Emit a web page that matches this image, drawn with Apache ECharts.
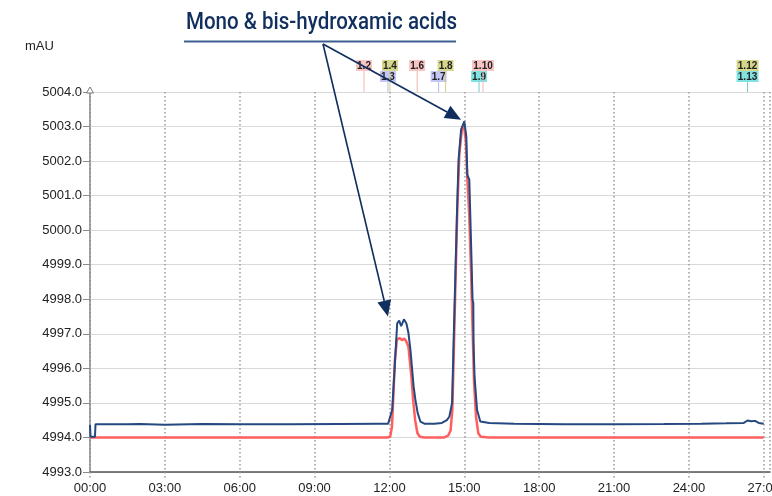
<!DOCTYPE html>
<html>
<head>
<meta charset="utf-8">
<script src="https://cdn.jsdelivr.net/npm/echarts@6/dist/echarts.min.js"></script>
<style>
  html, body { margin: 0; padding: 0; background: #fff; }
  #chart { width: 772px; height: 496px; }
</style>
</head>
<body>
<div id="chart"></div>
<script>
// time in minutes, signal in mAU
const blueTrace = [
  [0.0, 4994.36], [0.02, 4994.02], [0.2, 4994.02], [0.22, 4994.38], [1.5, 4994.38],
  [2.0, 4994.39], [3.0, 4994.37], [4.5, 4994.39], [6.0, 4994.38], [8.0, 4994.38],
  [10.0, 4994.39], [11.5, 4994.40], [11.95, 4994.40], [12.03, 4994.42], [12.11, 4994.8],
  [12.19, 4995.8], [12.27, 4996.8], [12.31, 4997.3], [12.39, 4997.38], [12.47, 4997.22],
  [12.52, 4997.2], [12.58, 4997.42], [12.63, 4997.46], [12.68, 4997.3], [12.76, 4997.03],
  [12.84, 4996.54], [12.9, 4996.05], [12.97, 4995.47], [13.04, 4995.09], [13.13, 4994.71],
  [13.24, 4994.46], [13.4, 4994.40], [13.8, 4994.40], [14.1, 4994.42], [14.3, 4994.5],
  [14.4, 4994.6], [14.51, 4995.0], [14.57, 4996.74], [14.64, 4998.66], [14.71, 5000.6],
  [14.77, 5002.04], [14.87, 5002.91], [15.0, 5003.15], [15.08, 5002.72], [15.12, 5001.6],
  [15.2, 5001.46], [15.27, 4999.64], [15.33, 4997.99], [15.36, 4997.9], [15.37, 4996.74],
  [15.41, 4995.76], [15.51, 4994.8], [15.64, 4994.46], [16.0, 4994.42], [17.0, 4994.40],
  [19.0, 4994.38], [21.0, 4994.38], [23.0, 4994.39], [24.5, 4994.40], [25.5, 4994.41],
  [26.2, 4994.42], [26.35, 4994.49], [26.5, 4994.47], [26.65, 4994.48], [26.8, 4994.42],
  [27.0, 4994.40]
];

const redTrace = [
  [0, 4994.0], [11.9, 4994.0], [12.03, 4994.02], [12.1, 4994.3], [12.15, 4995.09],
  [12.22, 4996.25], [12.3, 4996.83], [12.4, 4996.88], [12.5, 4996.82], [12.6, 4996.86],
  [12.66, 4996.8], [12.76, 4996.63], [12.88, 4995.76], [12.95, 4995.09], [13.03, 4994.5],
  [13.12, 4994.13], [13.22, 4994.02], [13.4, 4994.0], [14.2, 4994.0], [14.35, 4994.05],
  [14.45, 4994.2], [14.52, 4994.8], [14.58, 4996.5], [14.65, 4998.6], [14.72, 5000.6],
  [14.8, 5002.2], [14.9, 5002.9], [14.98, 5003.05], [15.06, 5002.6], [15.12, 5001.5],
  [15.2, 5000.4], [15.27, 4998.8], [15.33, 4997.2], [15.39, 4995.6], [15.47, 4994.6],
  [15.56, 4994.12], [15.66, 4994.02], [16.0, 4994.0], [27.0, 4994.0]
];

// peak markers: time, row, label, kind
const markerTimes = [10.98, 11.94, 12.02, 13.11, 13.97, 14.25, 15.59, 15.75, 26.35, 26.35];
const markerRows = [0, 1, 0, 0, 1, 0, 1, 0, 0, 1];
const markerLabels = ['1.2', '1.3', '1.4', '1.6', '1.7', '1.8', '1.9', '1.10', '1.12', '1.13'];
const markerKinds = ['pink', 'lilac', 'olive', 'pink', 'lilac', 'olive', 'teal', 'pink', 'olive', 'teal'];

const annotationText = 'Mono & bis-hydroxamic acids';
const arrowTargets = [[11.94, 4997.5], [14.87, 5003.2]];

const X_MIN = 0, X_MAX = 27.25, X_STEP = 3;
const Y_MIN = 4993, Y_MAX = 5004, Y_STEP = 1;

const markerColors = {
  pink:  { fill: '#f9c4c4', line: '#f4b4b4' },
  lilac: { fill: '#c6c6f6', line: '#b8b8f0' },
  olive: { fill: '#d7d78c', line: '#d0d080' },
  teal:  { fill: '#80e2e2', line: '#70cccc' }
};

const markerData = markerTimes.map((t, i) => [t, markerRows[i], markerLabels[i], markerKinds[i]]);

const chart = echarts.init(document.getElementById('chart'), null, { renderer: 'canvas' });

function pad2(n) { return (n < 10 ? '0' : '') + n; }

const option = {
  animation: false,
  backgroundColor: '#ffffff',
  textStyle: { fontFamily: 'Liberation Sans, Arial, sans-serif' },
  grid: [
    { left: 90, top: 92, width: 680, bottom: 24, outerBoundsMode: 'none', containLabel: false },
    { left: 90, top: 50, width: 680, height: 42, outerBoundsMode: 'none', containLabel: false }
  ],
  xAxis: [
    {
      type: 'value', gridIndex: 0, min: X_MIN, max: X_MAX, interval: X_STEP,
      axisLine: { onZero: false, lineStyle: { color: '#555', width: 1.5 } },
      axisTick: { length: 6, lineStyle: { color: '#999', type: [1.5, 2.5], width: 1.5 } },
      axisLabel: {
        color: '#222', fontSize: 13, margin: 10, showMaxLabel: false, hideOverlap: false,
        formatter: v => (v % 3 === 0 ? pad2(v) + ':00' : '')
      },
      splitLine: { show: true, lineStyle: { color: '#9a9a9a', type: [1.5, 2.5], width: 1.5 } }
    },
    { type: 'value', gridIndex: 1, min: X_MIN, max: X_MAX, show: false }
  ],
  yAxis: [
    {
      type: 'value', gridIndex: 0, min: Y_MIN, max: Y_MAX, interval: Y_STEP,
      axisLine: { show: true, lineStyle: { color: '#8a8a8a', width: 1.5 } },
      axisTick: { show: true, length: 7, lineStyle: { color: '#8a8a8a' } },
      axisLabel: { color: '#222', fontSize: 13, margin: 8, formatter: v => v.toFixed(1) },
      splitLine: { show: true, lineStyle: { color: '#d9d9d9', width: 1 } }
    },
    { type: 'value', gridIndex: 1, min: 0, max: 1, show: false }
  ],
  series: [
    {
      name: 'red', type: 'line', xAxisIndex: 0, yAxisIndex: 0, data: redTrace,
      showSymbol: false, lineStyle: { color: '#ff5f5f', width: 2.5 }, z: 3
    },
    {
      name: 'blue', type: 'line', xAxisIndex: 0, yAxisIndex: 0, data: blueTrace,
      showSymbol: false, lineStyle: { color: '#24487f', width: 2 }, z: 4
    },
    {
      name: 'markers', type: 'custom', xAxisIndex: 1, yAxisIndex: 1, data: markerData,
      z: 5, silent: true, clip: false,
      renderItem: function (params, api) {
        const t = api.value(0);
        const row = api.value(1);
        const label = markerLabels[params.dataIndex];
        const c = markerColors[markerKinds[params.dataIndex]];
        const base = api.coord([t, 0]);
        const cy = base[1] - (row === 0 ? 26.5 : 15.5);
        const w = label.length > 3 ? 22 : 16;
        const h = 11;
        return {
          type: 'group',
          children: [
            {
              type: 'line',
              shape: { x1: base[0], y1: cy, x2: base[0], y2: base[1] },
              style: { stroke: c.line, lineWidth: 1 }
            },
            {
              type: 'rect',
              shape: { x: base[0] - w / 2, y: cy - h / 2, width: w, height: h },
              style: { fill: c.fill }
            },
            {
              type: 'text',
              style: {
                x: base[0], y: cy + 0.5, text: label, fill: '#222',
                font: 'bold 10px Liberation Sans, Arial, sans-serif',
                align: 'center', verticalAlign: 'middle'
              }
            }
          ]
        };
      }
    }
  ]
};

chart.setOption(option);

// annotation, y axis arrow and unit label placed from the axes
function buildGraphics() {
  const start = [323, 44];
  const navy = '#112f5e';
  const elements = [
    {
      type: 'text', left: 25, top: 40,
      style: { text: 'mAU', fill: '#222', font: '13px Liberation Sans, Arial, sans-serif' }
    },
    {
      type: 'text', x: 186, y: 11, scaleX: 0.855,
      style: { text: annotationText, fill: navy, font: '500 24px Roboto, sans-serif' }
    },
    {
      type: 'line', shape: { x1: 184, y1: 41.5, x2: 456, y2: 41.5 },
      style: { stroke: '#3d5f8f', lineWidth: 2 }
    }
  ];
  arrowTargets.forEach(tg => {
    const tip = chart.convertToPixel({ gridIndex: 0 }, tg);
    const dx = tip[0] - start[0], dy = tip[1] - start[1];
    const len = Math.sqrt(dx * dx + dy * dy);
    const ux = dx / len, uy = dy / len;
    const headLen = 16, headW = 7;
    const bx = tip[0] - ux * headLen, by = tip[1] - uy * headLen;
    elements.push({
      type: 'line', shape: { x1: start[0], y1: start[1], x2: bx, y2: by },
      style: { stroke: navy, lineWidth: 1.6 }, z: 10
    });
    elements.push({
      type: 'polygon',
      shape: { points: [tip, [bx - uy * headW, by + ux * headW], [bx + uy * headW, by - ux * headW]] },
      style: { fill: navy }, z: 10
    });
  });
  const top = chart.convertToPixel({ gridIndex: 0 }, [X_MIN, Y_MAX]);
  elements.push({
    type: 'polygon',
    shape: { points: [[top[0], top[1] - 5], [top[0] - 3.5, top[1] + 1], [top[0] + 3.5, top[1] + 1]] },
    style: { fill: '#fff', stroke: '#777', lineWidth: 1 }, z: 10
  });
  return elements;
}

chart.setOption({ graphic: buildGraphics() });
</script>
</body>
</html>
